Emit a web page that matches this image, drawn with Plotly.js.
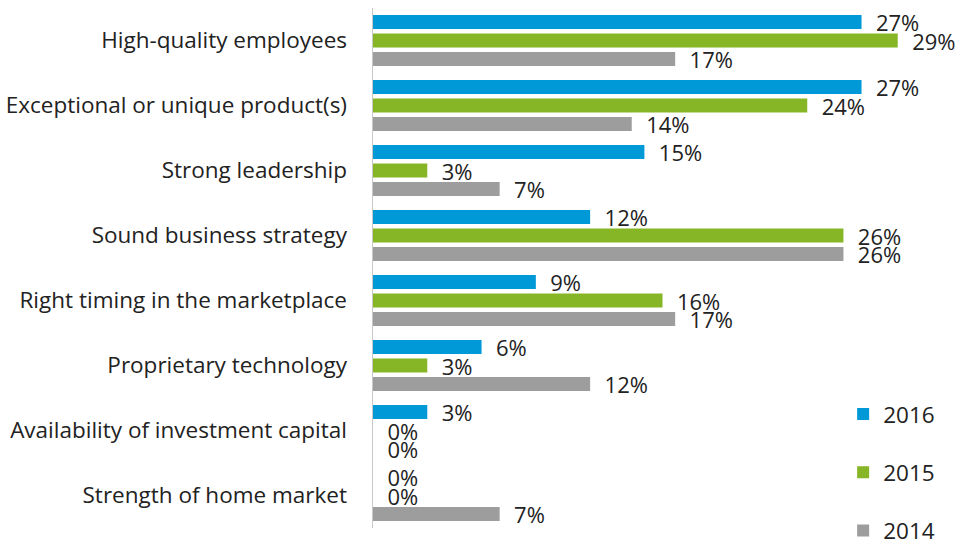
<!DOCTYPE html>
<html>
<head>
<meta charset="utf-8">
<script src="https://cdn.plot.ly/plotly-3.0.1.min.js"></script>
<style>html,body{margin:0;padding:0;background:#fff;}#chart{width:957px;height:543px;}</style>
</head>
<body>
<div id="chart"></div>
<script>
const categories = [
  "High-quality employees",
  "Exceptional or unique product(s)",
  "Strong leadership",
  "Sound business strategy",
  "Right timing in the marketplace",
  "Proprietary technology",
  "Availability of investment capital",
  "Strength of home market"
];
const years = ["2016", "2015", "2014"];
const values2016 = [27, 27, 15, 12, 9, 6, 3, 0];
const values2015 = [29, 24, 3, 26, 16, 3, 0, 0];
const values2014 = [16.7, 14.3, 7, 26, 16.7, 12, 0, 7];
const colors = ["#0099d8", "#86b526", "#9d9d9d"];

const series = [values2016, values2015, values2014];
const font = "'Open Sans', 'Noto Sans', sans-serif";

const data = series.map((vals, i) => ({
  type: "bar",
  orientation: "h",
  name: years[i],
  legendgroup: years[i],
  y: categories,
  x: vals,
  marker: {color: colors[i], line: {width: 0}},
  texttemplate: "\u00a0\u00a0%{x:.0f}%",
  textposition: "outside",
  cliponaxis: false,
  constraintext: "none",
  textfont: {family: font, size: 22, color: "#222"},
  hoverinfo: "x+y"
}));

const layout = {
  width: 957,
  height: 543,
  margin: {l: 373, r: 5, t: 8, b: 15, autoexpand: false},
  paper_bgcolor: "#fff",
  plot_bgcolor: "#fff",
  font: {family: font, size: 22, color: "#222"},
  barmode: "group",
  bargap: 0.145,
  bargroupgap: 0.24,
  showlegend: true,
  legend: {
    x: 0.812, xanchor: "left",
    y: 0.26, yanchor: "top",
    traceorder: "grouped",
    tracegroupgap: 26,
    font: {family: font, size: 22.5, color: "#222"},
    bgcolor: "rgba(0,0,0,0)"
  },
  xaxis: {
    range: [0, 32],
    visible: false,
    showgrid: false,
    zeroline: false
  },
  yaxis: {
    type: "category",
    categoryorder: "array",
    categoryarray: categories,
    autorange: "reversed",
    showgrid: false,
    zeroline: false,
    showline: true,
    linecolor: "#c8c8c8",
    linewidth: 1.5,
    ticks: "outside",
    ticklen: 20,
    tickcolor: "rgba(0,0,0,0)",
    tickfont: {family: font, size: 22.5, color: "#222"}
  }
};

Plotly.newPlot("chart", data, layout, {displayModeBar: false, staticPlot: true});
</script>
</body>
</html>
